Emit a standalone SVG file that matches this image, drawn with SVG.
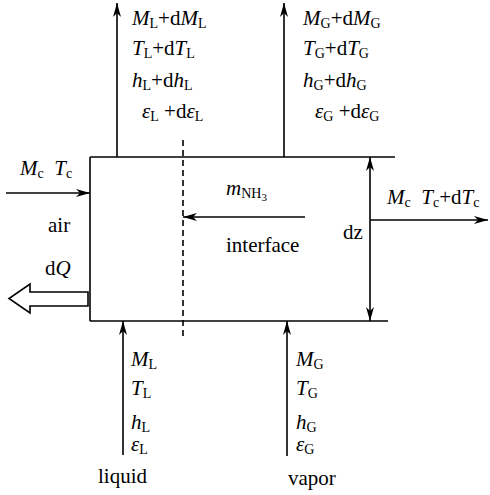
<svg xmlns="http://www.w3.org/2000/svg" width="490" height="495" viewBox="0 0 490 495">
<style>
text{font-family:"Liberation Serif","Times New Roman",serif;font-size:21px;fill:#000}
.i{font-style:italic}
.s{font-size:14px;font-style:normal;baseline-shift:-3px}
line,path.l{stroke:#000;stroke-width:1.6;fill:none}
</style>
<defs>
<marker id="ah" viewBox="0 0 14 8" refX="14" refY="4" markerWidth="14" markerHeight="8" markerUnits="userSpaceOnUse" orient="auto">
<path d="M0,0 L14,4 L0,8 L4,4 Z" fill="#000"/>
</marker>
</defs>
<rect width="490" height="495" fill="#fff"/>
<g id="box">
<line x1="90" y1="157" x2="395" y2="157"/>
<line x1="90" y1="321" x2="388" y2="321"/>
<line x1="90" y1="157" x2="90" y2="321"/>
</g>
<g id="interface-line">
<line x1="183" y1="140" x2="183" y2="336" stroke-dasharray="6,4"/>
</g>
<g id="connectors">
<line x1="117" y1="157" x2="117" y2="3" marker-end="url(#ah)"/>
<line x1="284" y1="157" x2="284" y2="3" marker-end="url(#ah)"/>
<line x1="6" y1="193" x2="90" y2="193" marker-end="url(#ah)"/>
<line x1="370" y1="220" x2="488" y2="220" marker-end="url(#ah)"/>
<line x1="305" y1="217" x2="183" y2="217" marker-end="url(#ah)"/>
<line x1="370" y1="188" x2="370" y2="157" marker-end="url(#ah)"/>
<line x1="370" y1="290" x2="370" y2="321" marker-end="url(#ah)"/>
<line x1="370" y1="188" x2="370" y2="290"/>
<line x1="123" y1="455" x2="123" y2="321" marker-end="url(#ah)"/>
<line x1="287" y1="456" x2="287" y2="321" marker-end="url(#ah)"/>
<path d="M88,292 L30,292 L30,284 L9,298.5 L30,313 L30,306 L88,306 Z" fill="#fff" stroke="#000" stroke-width="1.6"/>
</g>
<g id="top-liquid">
<text x="132" y="25"><tspan class="i">M</tspan><tspan class="s">L</tspan>+d<tspan class="i">M</tspan><tspan class="s">L</tspan></text>
<text x="132" y="55"><tspan class="i">T</tspan><tspan class="s">L</tspan>+d<tspan class="i">T</tspan><tspan class="s">L</tspan></text>
<text x="132" y="87"><tspan class="i">h</tspan><tspan class="s">L</tspan>+d<tspan class="i">h</tspan><tspan class="s">L</tspan></text>
<text x="142" y="118" xml:space="preserve"><tspan class="i">ε</tspan><tspan class="s">L</tspan> +d<tspan class="i">ε</tspan><tspan class="s">L</tspan></text>
</g>
<g id="top-vapor">
<text x="303" y="25"><tspan class="i">M</tspan><tspan class="s">G</tspan>+d<tspan class="i">M</tspan><tspan class="s">G</tspan></text>
<text x="303" y="55"><tspan class="i">T</tspan><tspan class="s">G</tspan>+d<tspan class="i">T</tspan><tspan class="s">G</tspan></text>
<text x="303" y="87"><tspan class="i">h</tspan><tspan class="s">G</tspan>+d<tspan class="i">h</tspan><tspan class="s">G</tspan></text>
<text x="315" y="118" xml:space="preserve"><tspan class="i">ε</tspan><tspan class="s">G</tspan> +d<tspan class="i">ε</tspan><tspan class="s">G</tspan></text>
</g>
<g id="air-in">
<text x="20" y="175" xml:space="preserve"><tspan class="i">M</tspan><tspan class="s">c</tspan>  <tspan class="i">T</tspan><tspan class="s">c</tspan></text>
<text x="48" y="232">air</text>
<text x="45" y="275">d<tspan class="i">Q</tspan></text>
</g>
<g id="air-out">
<text x="387" y="204" xml:space="preserve"><tspan class="i">M</tspan><tspan class="s">c</tspan>  <tspan class="i">T</tspan><tspan class="s">c</tspan>+d<tspan class="i">T</tspan><tspan class="s">c</tspan></text>
</g>
<g id="center">
<text x="226" y="195"><tspan class="i">m</tspan><tspan class="s">NH</tspan><tspan font-size="11" baseline-shift="-6px">3</tspan></text>
<text x="226" y="252">interface</text>
<text x="343" y="239">dz</text>
</g>
<g id="bottom-liquid">
<text x="131" y="366"><tspan class="i">M</tspan><tspan class="s">L</tspan></text>
<text x="131" y="395"><tspan class="i">T</tspan><tspan class="s">L</tspan></text>
<text x="131" y="429"><tspan class="i">h</tspan><tspan class="s">L</tspan></text>
<text x="131" y="451"><tspan class="i">ε</tspan><tspan class="s">L</tspan></text>
<text x="98" y="483">liquid</text>
</g>
<g id="bottom-vapor">
<text x="296" y="366"><tspan class="i">M</tspan><tspan class="s">G</tspan></text>
<text x="296" y="395"><tspan class="i">T</tspan><tspan class="s">G</tspan></text>
<text x="296" y="429"><tspan class="i">h</tspan><tspan class="s">G</tspan></text>
<text x="296" y="451"><tspan class="i">ε</tspan><tspan class="s">G</tspan></text>
<text x="288" y="485">vapor</text>
</g>
</svg>
